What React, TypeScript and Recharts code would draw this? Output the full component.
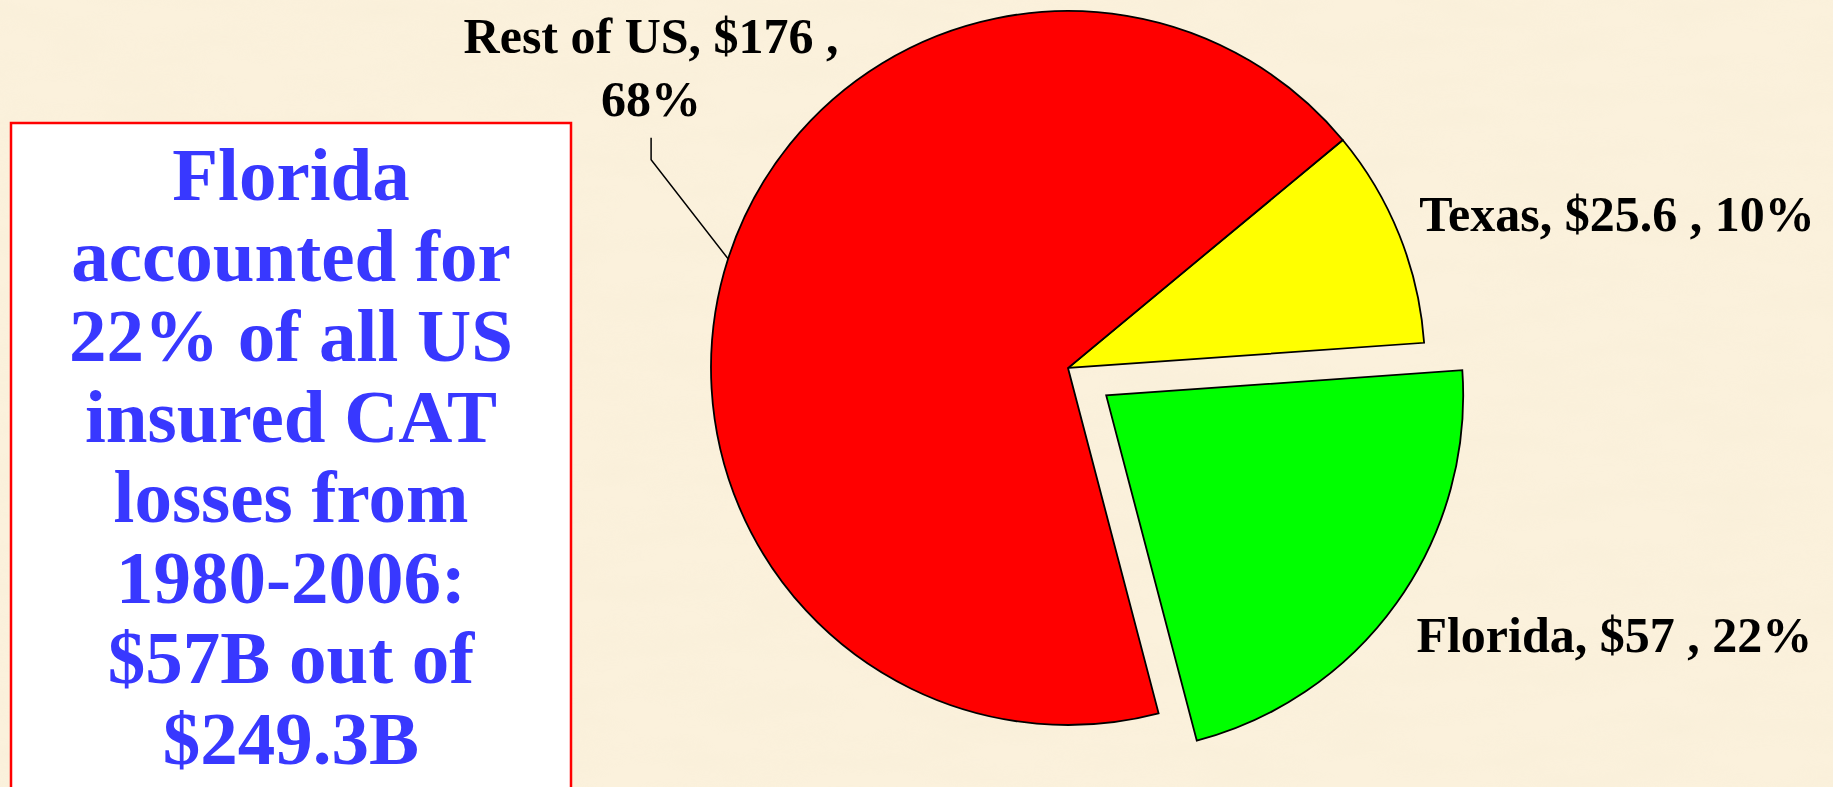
import React from 'react';
import { PieChart, Pie, Cell, Sector } from 'recharts';

// ---- data ----
const categories = ['Florida', 'Texas', 'Rest of US'];
const lossValues = [57, 25.6, 176];
const sliceColors = ['#00FF00', '#FFFF00', '#FF0000'];
const explodedSlice = 'Florida';
const noteLines = [
  'Florida',
  'accounted for',
  '22% of all US',
  'insured CAT',
  'losses from',
  '1980-2006:',
  '$57B out of',
  '$249.3B',
];

const data = categories.map((name, i) => ({ name, value: lossValues[i] }));

// ---- layout / style ----
const W = 1833;
const H = 787;
const BG = '#FBF1DC';
const FONT = '"Liberation Serif", "Times New Roman", Times, serif';
const EXPLODE = 47;
const RAD = Math.PI / 180;

const explodeShift = (name: string, midAngle: number) => {
  const off = name === explodedSlice ? EXPLODE : 0;
  return { dx: off * Math.cos(-midAngle * RAD), dy: off * Math.sin(-midAngle * RAD) };
};

const renderSlice = (props: any) => {
  const name = props?.payload?.name ?? props.name;
  const { dx, dy } = explodeShift(name, props.midAngle);
  return <Sector {...props} cx={props.cx + dx} cy={props.cy + dy} />;
};

const fmtLabel = (name: string, value: number, percent: number) => ({
  head: `${name}, $${value} ,`,
  pct: `${Math.round(percent * 100)}%`,
});

const renderLabel = (props: any) => {
  const { cx, cy, midAngle, outerRadius, percent, index } = props;
  const name = categories[index];
  const value = lossValues[index];
  const { dx, dy } = explodeShift(name, midAngle);
  const px = cx + dx + outerRadius * Math.cos(-midAngle * RAD);
  const py = cy + dy + outerRadius * Math.sin(-midAngle * RAD);
  const t = fmtLabel(name, value, percent);
  const textStyle = { fontFamily: FONT, fontWeight: 700, fontSize: 50, fill: '#000' };
  if (name === 'Rest of US') {
    const lx = px - 77;
    return (
      <g key={`lbl-${index}`}>
        <polyline
          points={`${px},${py} ${lx},${py - 99} ${lx},${py - 121}`}
          fill="none"
          stroke="#000"
          strokeWidth={1.5}
        />
        <text x={lx} y={py - 206} textAnchor="middle" style={textStyle}>
          {t.head}
        </text>
        <text x={lx} y={py - 143} textAnchor="middle" style={textStyle}>
          {t.pct}
        </text>
      </g>
    );
  }
  const nudge = name === 'Texas' ? { x: 20, y: -4 } : { x: 20, y: 49 };
  return (
    <text key={`lbl-${index}`} x={px + nudge.x} y={py + nudge.y} textAnchor="start" style={textStyle}>
      {`${t.head} ${t.pct}`}
    </text>
  );
};

export default function App() {
  return (
    <div
      style={{
        position: 'absolute',
        left: 0,
        top: 0,
        width: W,
        height: H,
        background: BG,
        overflow: 'hidden',
      }}
    >
      <svg width={W} height={H} style={{ position: 'absolute', left: 0, top: 0 }}>
        <defs>
          <filter id="parchment" x="0" y="0" width="100%" height="100%">
            <feTurbulence type="fractalNoise" baseFrequency="0.01 0.035" numOctaves={4} seed={7} />
            <feColorMatrix
              type="matrix"
              values="0 0 0 0 0.93  0 0 0 0 0.85  0 0 0 0 0.68  0 0 0 -1.6 1.05"
            />
          </filter>
        </defs>
        <rect x={0} y={0} width={W} height={H} filter="url(#parchment)" opacity={0.45} />
        <rect x={11} y={123} width={560} height={720} fill="#FFFFFF" stroke="#FF0000" strokeWidth={2.5} />
        {noteLines.map((line, i) => (
          <text
            key={line}
            x={291}
            y={200 + i * 80.5}
            textAnchor="middle"
            style={{ fontFamily: FONT, fontWeight: 700, fontSize: 75, fill: '#3838FF' }}
          >
            {line}
          </text>
        ))}
      </svg>
      <div style={{ position: 'absolute', left: 0, top: 0 }}>
        <PieChart width={W} height={H} margin={{ top: 0, right: 0, bottom: 0, left: 0 }}>
          <Pie
            data={data}
            dataKey="value"
            nameKey="name"
            cx={1068}
            cy={368}
            outerRadius={357}
            startAngle={-75.3}
            endAngle={284.7}
            stroke="#000000"
            strokeWidth={1.8}
            isAnimationActive={false}
            shape={renderSlice}
            label={renderLabel}
            labelLine={false}
          >
            {data.map((d, i) => (
              <Cell key={d.name} fill={sliceColors[i]} />
            ))}
          </Pie>
        </PieChart>
      </div>
    </div>
  );
}
